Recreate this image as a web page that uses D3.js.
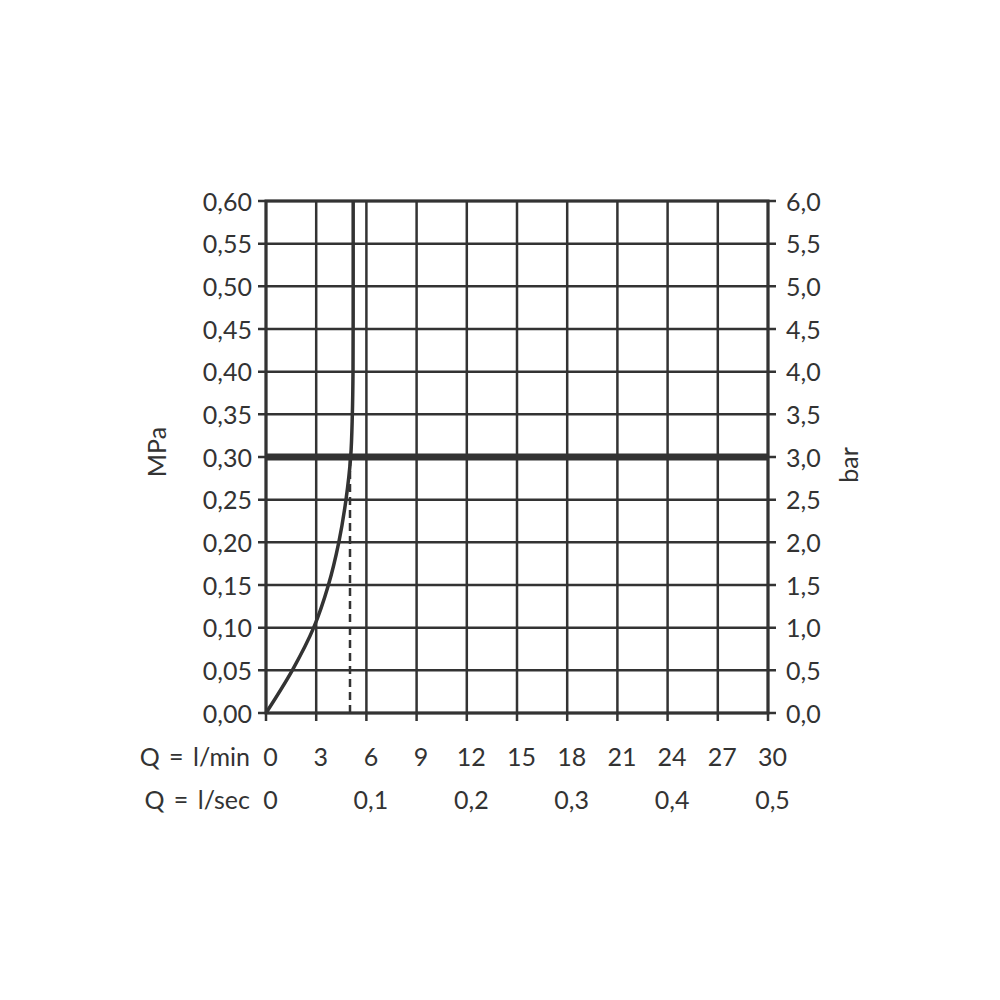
<!DOCTYPE html>
<html><head><meta charset="utf-8">
<script src="https://cdn.jsdelivr.net/npm/d3@7"></script>
<style>body{margin:0;background:#fff}text{font-family:Lato,"DejaVu Sans",sans-serif;fill:#333}</style>
</head><body><svg id="c" width="1000" height="1000"></svg>
<script>
const flowTicksMin = [0,3,6,9,12,15,18,21,24,27,30];
const flowTicksSec = [0,0.1,0.2,0.3,0.4,0.5];
const mpaTicks = [0,0.05,0.10,0.15,0.20,0.25,0.30,0.35,0.40,0.45,0.50,0.55,0.60];
const barTicks = [0,0.5,1,1.5,2,2.5,3,3.5,4,4.5,5,5.5,6];
const curveFlow = [0,1.57,2.85,3.73,4.35,4.78,5.06,5.16,5.2,5.21,5.21];
const curvePressure = [0,0.05,0.10,0.15,0.20,0.25,0.30,0.35,0.40,0.50,0.60];
const dashFlow = 5.02, dashTop = 0.30;
const limitPressure = 0.30;

const svg = d3.select("#c");
const x = d3.scaleLinear().domain([0,30]).range([266,768]);
const xs = d3.scaleLinear().domain([0,0.5]).range([266,768]);
const y = d3.scaleLinear().domain([0,0.6]).range([713,201]);
const yb = d3.scaleLinear().domain([0,6]).range([713,201]);
const col = "#333";
const FS = 25;
const fmt = (d,n)=>d.toFixed(n).replace(".",",");

// grid
const g = svg.append("g").attr("stroke",col).attr("stroke-width",2.5);
flowTicksMin.forEach(v=>g.append("line").attr("x1",x(v)).attr("x2",x(v)).attr("y1",201).attr("y2",721));
mpaTicks.forEach(v=>g.append("line").attr("x1",258).attr("x2",776).attr("y1",y(v)).attr("y2",y(v)));
// frame
svg.append("rect").attr("x",266).attr("y",201).attr("width",502).attr("height",512).attr("fill","none").attr("stroke",col).attr("stroke-width",3);

// axes labels
const ly = svg.append("g").attr("transform","translate(252,0)").call(d3.axisLeft(y).tickValues(mpaTicks).tickSize(0).tickPadding(0).tickFormat(d=>fmt(d,2)));
const ry = svg.append("g").attr("transform","translate(786,0)").call(d3.axisRight(yb).tickValues(barTicks).tickSize(0).tickPadding(0).tickFormat(d=>fmt(d,1)));
const bx = svg.append("g").attr("transform","translate(4,0)").call(d3.axisBottom(x).tickValues(flowTicksMin).tickSize(0).tickFormat(d=>d));
const bs = svg.append("g").attr("transform","translate(4,0)").call(d3.axisBottom(xs).tickValues(flowTicksSec).tickSize(0).tickFormat(d=>d===0?"0":fmt(d,1)));
[ly,ry,bx,bs].forEach(a=>{a.select(".domain").remove();a.selectAll("text").attr("font-size",FS).attr("fill",col).attr("font-family","Lato, 'DejaVu Sans', sans-serif");});
ly.selectAll("text").attr("dy","0.36em").attr("x",0);
ry.selectAll("text").attr("dy","0.36em").attr("x",0);
bx.selectAll("text").attr("dy",null).attr("y",766);
bs.selectAll("text").attr("dy",null).attr("y",809);

svg.append("text").attr("x",250).attr("y",766).attr("text-anchor","end").attr("font-size",FS).attr("word-spacing",3).text("Q = l/min");
svg.append("text").attr("x",250).attr("y",809).attr("text-anchor","end").attr("font-size",FS).attr("word-spacing",3).text("Q = l/sec");
svg.append("text").attr("transform","translate(166,452) rotate(-90)").attr("text-anchor","middle").attr("font-size",FS).text("MPa");
svg.append("text").attr("transform","translate(858,465) rotate(-90)").attr("text-anchor","middle").attr("font-size",FS).text("bar");

// limit line
svg.append("line").attr("x1",266).attr("x2",768).attr("y1",y(limitPressure)).attr("y2",y(limitPressure)).attr("stroke",col).attr("stroke-width",7);
// dashed line
svg.append("line").attr("x1",x(dashFlow)).attr("x2",x(dashFlow)).attr("y1",y(0)).attr("y2",y(dashTop)).attr("stroke",col).attr("stroke-width",2.5).attr("stroke-dasharray","8,5");
// curve
const pts = curveFlow.map((f,i)=>[f,curvePressure[i]]);
svg.append("path").attr("d",d3.line().x(d=>x(d[0])).y(d=>y(d[1])).curve(d3.curveCatmullRom.alpha(0.5))(pts))
  .attr("fill","none").attr("stroke",col).attr("stroke-width",3.5);
</script></body></html>
